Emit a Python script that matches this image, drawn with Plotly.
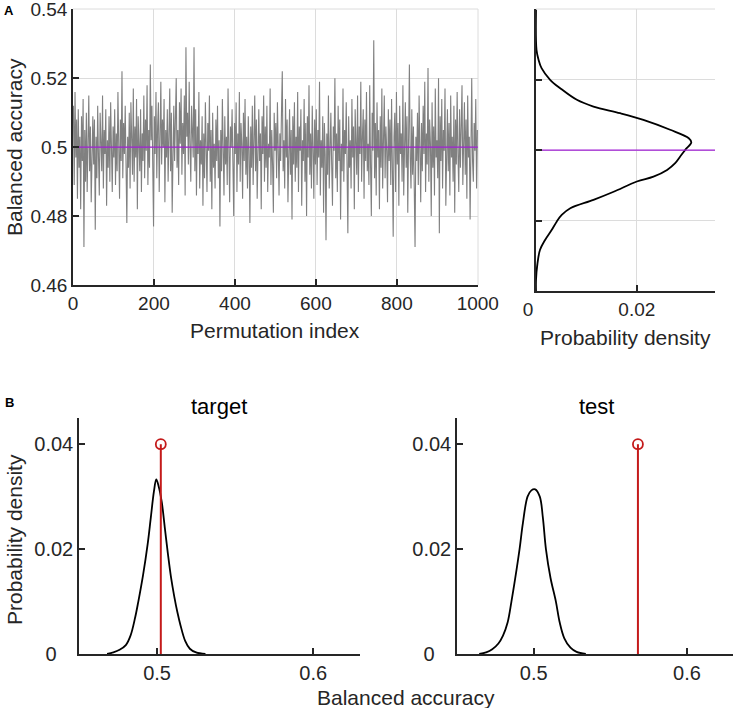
import plotly.graph_objects as go

# Panel A - balanced accuracy of each permutation (every 2nd permutation)
perm_index = list(range(1, 1000, 2))
perm_acc = [
    0.512, 0.489, 0.516, 0.497, 0.508, 0.485, 0.511, 0.494, 0.503, 0.482, 0.509, 0.496, 0.514, 0.471, 0.505, 0.490, 0.510, 0.487, 0.501, 0.515, 0.493, 0.506, 0.484, 0.499, 0.509,
    0.495, 0.508, 0.476, 0.503, 0.491, 0.512, 0.497, 0.486, 0.510, 0.500, 0.493, 0.515, 0.488, 0.505, 0.498, 0.511, 0.483, 0.502, 0.494, 0.509, 0.490, 0.513, 0.499, 0.487, 0.506,
    0.497, 0.511, 0.489, 0.504, 0.493, 0.516, 0.501, 0.485, 0.508, 0.496, 0.522, 0.491, 0.507, 0.498, 0.512, 0.486, 0.478, 0.503, 0.494, 0.510, 0.488, 0.513, 0.499, 0.492, 0.517,
    0.490, 0.506, 0.497, 0.514, 0.482, 0.509, 0.500, 0.493, 0.511, 0.487, 0.504, 0.496, 0.515, 0.491, 0.508, 0.499, 0.518, 0.489, 0.505, 0.494, 0.524, 0.502, 0.512, 0.495, 0.477,
    0.509, 0.498, 0.516, 0.491, 0.506, 0.513, 0.487, 0.502, 0.519, 0.495, 0.508, 0.500, 0.514, 0.484, 0.505, 0.497, 0.511, 0.490, 0.503, 0.517, 0.493, 0.510, 0.481, 0.499, 0.512,
    0.496, 0.508, 0.520, 0.494, 0.505, 0.489, 0.513, 0.501, 0.517, 0.492, 0.507, 0.498, 0.515, 0.486, 0.529, 0.503, 0.510, 0.495, 0.519, 0.500, 0.490, 0.512, 0.504, 0.497, 0.529,
    0.493, 0.511, 0.486, 0.506, 0.498, 0.516, 0.488, 0.502, 0.495, 0.509, 0.483, 0.504, 0.491, 0.513, 0.497, 0.487, 0.507, 0.499, 0.515, 0.490, 0.505, 0.482, 0.510, 0.494, 0.501,
    0.488, 0.508, 0.496, 0.512, 0.491, 0.502, 0.477, 0.505, 0.493, 0.514, 0.499, 0.486, 0.509, 0.495, 0.503, 0.489, 0.517, 0.497, 0.484, 0.506, 0.500, 0.511, 0.492, 0.480, 0.507,
    0.498, 0.513, 0.487, 0.504, 0.495, 0.516, 0.490, 0.507, 0.501, 0.485, 0.510, 0.496, 0.514, 0.492, 0.503, 0.488, 0.509, 0.499, 0.478, 0.506, 0.494, 0.512, 0.489, 0.502, 0.515,
    0.493, 0.508, 0.485, 0.500, 0.511, 0.496, 0.504, 0.482, 0.509, 0.498, 0.515, 0.490, 0.506, 0.494, 0.512, 0.487, 0.501, 0.497, 0.517, 0.489, 0.505, 0.495, 0.481, 0.510, 0.499,
    0.507, 0.491, 0.513, 0.498, 0.486, 0.504, 0.496, 0.510, 0.522, 0.493, 0.502, 0.488, 0.514, 0.497, 0.508, 0.484, 0.500, 0.511, 0.492, 0.505, 0.479, 0.509, 0.495, 0.513, 0.490,
    0.503, 0.494, 0.516, 0.487, 0.506, 0.499, 0.511, 0.483, 0.502, 0.496, 0.514, 0.490, 0.507, 0.480, 0.509, 0.497, 0.518, 0.492, 0.504, 0.488, 0.512, 0.500, 0.485, 0.508, 0.495,
    0.511, 0.489, 0.505, 0.497, 0.519, 0.486, 0.502, 0.494, 0.509, 0.481, 0.507, 0.498, 0.473, 0.504, 0.492, 0.515, 0.488, 0.501, 0.510, 0.495, 0.483, 0.506, 0.499, 0.520, 0.491,
    0.504, 0.487, 0.512, 0.496, 0.508, 0.479, 0.501, 0.493, 0.517, 0.490, 0.505, 0.498, 0.513, 0.485, 0.475, 0.509, 0.494, 0.502, 0.488, 0.514, 0.497, 0.506, 0.482, 0.511, 0.499,
    0.492, 0.515, 0.487, 0.506, 0.498, 0.519, 0.490, 0.503, 0.511, 0.485, 0.508, 0.496, 0.516, 0.493, 0.501, 0.489, 0.518, 0.495, 0.480, 0.510, 0.499, 0.531, 0.491, 0.507, 0.486,
    0.513, 0.497, 0.505, 0.482, 0.509, 0.494, 0.517, 0.488, 0.502, 0.515, 0.491, 0.506, 0.499, 0.484, 0.511, 0.496, 0.508, 0.489, 0.514, 0.493, 0.474, 0.503, 0.510, 0.487, 0.516,
    0.495, 0.507, 0.483, 0.512, 0.498, 0.504, 0.490, 0.518, 0.486, 0.501, 0.513, 0.494, 0.509, 0.481, 0.505, 0.524, 0.497, 0.488, 0.511, 0.492, 0.506, 0.485, 0.471, 0.503, 0.496,
    0.510, 0.489, 0.515, 0.499, 0.484, 0.507, 0.493, 0.512, 0.498, 0.519, 0.487, 0.504, 0.495, 0.523, 0.490, 0.508, 0.501, 0.480, 0.513, 0.494, 0.506, 0.486, 0.517, 0.497, 0.502,
    0.491, 0.520, 0.475, 0.509, 0.496, 0.514, 0.488, 0.505, 0.499, 0.517, 0.483, 0.502, 0.511, 0.493, 0.507, 0.486, 0.515, 0.497, 0.503, 0.490, 0.512, 0.481, 0.508, 0.495, 0.516,
    0.498, 0.487, 0.511, 0.494, 0.506, 0.518, 0.489, 0.502, 0.513, 0.492, 0.508, 0.485, 0.515, 0.497, 0.503, 0.479, 0.510, 0.520, 0.496, 0.490, 0.507, 0.499, 0.514, 0.488, 0.505,
]
mean_acc = 0.5

# Panel A right - density of the permutation accuracies (sideways)
dens_acc = [0.5399, 0.5285, 0.5257, 0.5233, 0.52, 0.5176, 0.5143, 0.5124, 0.5105, 0.5086, 0.5058,
            0.5034, 0.5022, 0.5001, 0.4982, 0.4963, 0.4944, 0.4925, 0.4911, 0.4882, 0.4859,
            0.4835, 0.4816, 0.4797, 0.4773, 0.4745, 0.4717, 0.4679, 0.4631, 0.46]
dens_val = [0.0, 0.0001, 0.0005, 0.0011, 0.0028, 0.0048, 0.0081, 0.0114, 0.0167, 0.0213, 0.0266,
            0.0303, 0.0308, 0.0296, 0.0286, 0.0276, 0.026, 0.0233, 0.02, 0.0154, 0.0114,
            0.0068, 0.0051, 0.0041, 0.0031, 0.0018, 0.0008, 0.0003, 0.0, 0.0]

# Panel B - null distributions and observed accuracies
target_x = [0.468, 0.472, 0.476, 0.480, 0.483, 0.486, 0.488, 0.491, 0.494, 0.496, 0.498, 0.4995,
            0.501, 0.503, 0.505, 0.507, 0.509, 0.511, 0.513, 0.515, 0.518, 0.521, 0.525, 0.531]
target_y = [0.0, 0.0003, 0.0008, 0.0017, 0.0035, 0.007, 0.010, 0.015, 0.021, 0.026, 0.031, 0.0333,
            0.032, 0.029, 0.024, 0.019, 0.0145, 0.011, 0.008, 0.0055, 0.0025, 0.001, 0.0003, 0.0]
test_x = [0.4645, 0.469, 0.473, 0.477, 0.480, 0.483, 0.4855, 0.488, 0.4908, 0.493, 0.496, 0.4985,
          0.501, 0.504, 0.506, 0.508, 0.511, 0.5145, 0.517, 0.520, 0.524, 0.528, 0.534]
test_y = [0.0, 0.0003, 0.0009, 0.002, 0.0035, 0.006, 0.010, 0.0145, 0.020, 0.025, 0.030, 0.0312,
          0.0314, 0.030, 0.026, 0.020, 0.0145, 0.010, 0.006, 0.003, 0.0012, 0.0004, 0.0]
observed = {"target": 0.5024, "test": 0.568}
stem_top = 0.04

GRAY = "#808080"
PURPLE = "#a21fd6"
RED = "#c41a1a"
AXIS = "#262626"
GRID = "#dcdcdc"
FONT = "Liberation Sans, Arial, sans-serif"

fig = go.Figure()

fig.add_trace(go.Scatter(x=perm_index, y=perm_acc, mode="lines",
                         line=dict(color=GRAY, width=1.1), xaxis="x", yaxis="y"))
fig.add_trace(go.Scatter(x=[0, 1000], y=[mean_acc, mean_acc], mode="lines",
                         line=dict(color=PURPLE, width=1.3), xaxis="x", yaxis="y"))

fig.add_trace(go.Scatter(x=dens_val, y=dens_acc, mode="lines", line_shape="spline",
                         line=dict(color="black", width=1.8), xaxis="x2", yaxis="y2"))
fig.add_trace(go.Scatter(x=[0, 0.0355], y=[mean_acc, mean_acc], mode="lines",
                         line=dict(color=PURPLE, width=1.3), xaxis="x2", yaxis="y2"))

for name, xs, ys, xa, ya in [("target", target_x, target_y, "x3", "y3"),
                             ("test", test_x, test_y, "x4", "y4")]:
    fig.add_trace(go.Scatter(x=xs, y=ys, mode="lines", line_shape="spline",
                             line=dict(color="black", width=1.8), xaxis=xa, yaxis=ya))
    obs = observed[name]
    fig.add_trace(go.Scatter(x=[obs, obs], y=[0, stem_top], mode="lines",
                             line=dict(color=RED, width=2), xaxis=xa, yaxis=ya))
    fig.add_trace(go.Scatter(x=[obs], y=[stem_top], mode="markers",
                             marker=dict(symbol="circle-open", size=10, color=RED,
                                         line=dict(width=1.8, color=RED)),
                             xaxis=xa, yaxis=ya))

W, H = 736, 708


def dom_x(a, b):
    return [a / W, b / W]


def dom_y(top, bottom):
    return [1 - bottom / H, 1 - top / H]


common = dict(showline=True, linecolor=AXIS, linewidth=1.5, ticks="inside", ticklen=6,
              tickwidth=1.5, tickcolor=AXIS, zeroline=False, mirror=False, automargin=False,
              ticklabeloverflow="allow")
font_a = dict(family=FONT, size=19, color=AXIS)
font_b = dict(family=FONT, size=20, color=AXIS)
# MATLAB centres the lone "0" label, so pad it a little
zero_pad = "0\u2007\u2008"

fig.update_layout(
    width=W, height=H, margin=dict(l=0, r=0, t=0, b=0),
    paper_bgcolor="white", plot_bgcolor="white", showlegend=False,
    font=dict(family=FONT, color=AXIS),
    xaxis=dict(domain=dom_x(73, 478), range=[0, 1000.5], tickvals=[0, 200, 400, 600, 800, 1000],
               showgrid=True, gridcolor=GRID, anchor="y", tickfont=font_a, **common),
    yaxis=dict(domain=dom_y(9, 285), range=[0.46, 0.5401],
               tickvals=[0.46, 0.48, 0.5, 0.52, 0.54], ticktext=["0.46", "0.48", "0.5", "0.52", "0.54"],
               showgrid=True, gridcolor=GRID, anchor="x", tickfont=font_a, **common),
    xaxis2=dict(domain=dom_x(536, 715), range=[0, 0.0355], tickvals=[0, 0.02],
                ticktext=[zero_pad, "0.02"], showgrid=True, gridcolor=GRID, anchor="y2",
                tickfont=font_a, **common),
    yaxis2=dict(domain=dom_y(9, 291), range=[0.46, 0.5401],
                tickvals=[0.46, 0.48, 0.5, 0.52, 0.54], showticklabels=False,
                showgrid=True, gridcolor=GRID, anchor="x2", tickfont=font_a, **common),
    xaxis3=dict(domain=dom_x(79, 360), range=[0.45, 0.63], tickvals=[0.5, 0.6],
                showgrid=False, anchor="y3", tickfont=font_b, **common),
    yaxis3=dict(domain=dom_y(418, 654), range=[0, 0.045], tickvals=[0, 0.02, 0.04],
                ticktext=[zero_pad, "0.02", "0.04"], showgrid=False, anchor="x3",
                tickfont=font_b, **common),
    xaxis4=dict(domain=dom_x(457, 733), range=[0.45, 0.63], tickvals=[0.5, 0.6],
                showgrid=False, anchor="y4", tickfont=font_b, **common),
    yaxis4=dict(domain=dom_y(418, 654), range=[0, 0.045], tickvals=[0, 0.02, 0.04],
                ticktext=[zero_pad, "0.02", "0.04"], showgrid=False, anchor="x4",
                tickfont=font_b, **common),
)

# grid lines on the plot edges (plotly drops these itself)
edge = dict(type="line", line=dict(color=GRID, width=1), layer="below")
fig.add_shape(x0=0, x1=1, y0=1, y1=1, xref="x domain", yref="y domain", **edge)
fig.add_shape(x0=1, x1=1, y0=0, y1=1, xref="x domain", yref="y domain", **edge)
fig.add_shape(x0=0, x1=1, y0=1, y1=1, xref="x2 domain", yref="y2 domain", **edge)

label_font = dict(family=FONT, size=21, color=AXIS)


def note(text, x, y, angle=0, font=label_font):
    fig.add_annotation(text=text, x=x / W, y=1 - y / H, xref="paper", yref="paper",
                       showarrow=False, textangle=angle, font=font,
                       xanchor="center", yanchor="middle")


note("Balanced accuracy", 14, 147, angle=-90)
note("Permutation index", 275, 330)
note("Probability density", 625, 337)
note("target", 219, 406, font=dict(family=FONT, size=22, color="black"))
note("test", 596, 406, font=dict(family=FONT, size=22, color="black"))
note("Probability density", 14, 540, angle=-90)
note("Balanced accuracy", 406, 697)
note("<b>A</b>", 9, 10, font=dict(family=FONT, size=13, color="black"))
note("<b>B</b>", 9, 402, font=dict(family=FONT, size=13, color="black"))

# page margin off so the 736x708 figure fills the window exactly
fig.write_html("out.html", config={"displayModeBar": False},
               post_script="document.body.style.margin='0';")
